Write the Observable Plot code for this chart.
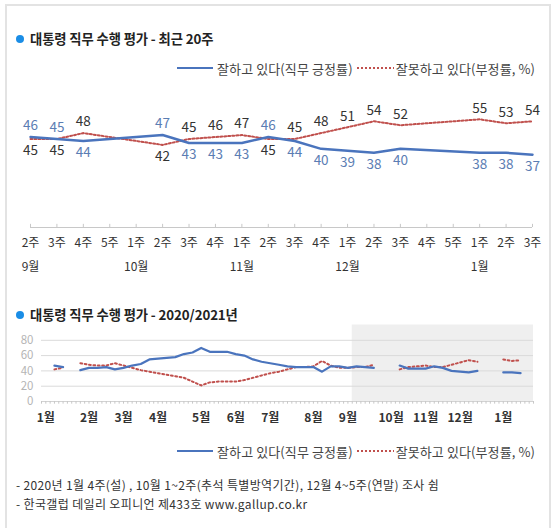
<!DOCTYPE html>
<html><head><meta charset="utf-8">
<script src="https://cdn.jsdelivr.net/npm/d3@7"></script>
<script src="https://cdn.jsdelivr.net/npm/@observablehq/plot@0.6"></script>
<style>
body{margin:0;background:#fff;font-family:"Noto Sans CJK KR","Noto Sans",sans-serif;}
#root{position:relative;width:559px;height:528px;overflow:hidden;background:#fff;}
.frame{position:absolute;left:5px;top:4px;width:546px;height:560px;border:2px solid #e3e3e3;box-sizing:border-box;}
.title{position:absolute;left:16px;height:18px;line-height:18px;font-size:13.3px;font-weight:bold;color:#222;white-space:nowrap;display:flex;align-items:center;letter-spacing:-0.1px;}
.dot{display:inline-block;width:8px;height:8px;border-radius:50%;background:#1a8de6;margin-right:6px;}
.legend{position:absolute;right:24px;height:18px;font-size:13px;color:#444;display:flex;align-items:center;white-space:nowrap;letter-spacing:0.1px;}
.legend svg{display:block;}
.note{position:absolute;left:16px;height:16px;line-height:16px;font-size:12px;color:#333;white-space:nowrap;letter-spacing:0.35px;}
.chart{position:absolute;left:0;}
</style></head><body>
<div id="root">
  <div class="frame"></div>
  <div class="chart" id="top" style="top:60px"></div>
  <div class="chart" id="bottom" style="top:315px"></div>
  <div class="title" style="top:30px"><span class="dot"></span>대통령 직무 수행 평가 - 최근 20주</div>
  <div class="legend" id="leg1" style="top:59px"></div>
  <div class="title" style="top:306px"><span class="dot"></span>대통령 직무 수행 평가 - 2020/2021년</div>
  <div class="legend" id="leg2" style="top:442px"></div>
  <div class="note" style="top:477px">- 2020년 1월 4주(설) , 10월 1~2주(추석 특별방역기간), 12월 4~5주(연말) 조사 쉼</div>
  <div class="note" style="top:496px">- 한국갤럽 데일리 오피니언 제433호 www.gallup.co.kr</div>
</div>
<script>
// ---------- data: recent 20 weeks ----------
const topWeeks = ["2주","3주","4주","5주","1주","2주","3주","4주","1주","2주","3주","4주","1주","2주","3주","4주","5주","1주","2주","3주"];
const topMonthLabels = ["9월","10월","11월","12월","1월"];
const topMonthWeekIndex = [0,4,8,12,17];
const topApprove = [46,45,44,null,null,47,43,43,43,46,44,40,39,38,40,null,null,38,38,37];
const topDisapprove = [45,45,48,null,null,42,45,46,47,45,45,48,51,54,52,null,null,55,53,54];

// ---------- data: 2020/2021 weekly ----------
const months = ["1월","2월","3월","4월","5월","6월","7월","8월","9월","10월","11월","12월","1월"];
const weeksPerMonth = [5,4,4,5,4,4,5,4,5,4,4,5,4];
const approve = [null,47,45,null,41,44,44,45,42,44,47,49,55,56,57,58,62,64,70,65,65,65,62,60,55,52,50,48,46,45,45,45,39,46,46,44,46,45,44,null,null,47,43,43,43,46,44,40,39,38,40,null,null,38,38,37,null];
const disapprove = [null,42,44,null,50,48,47,47,50,47,44,41,39,37,35,33,31,26,21,25,26,26,26,28,31,34,37,39,42,45,45,46,53,47,44,44,45,45,48,null,null,42,45,46,47,45,45,48,51,54,52,null,null,55,53,54,null];
const yTicks = [0,20,40,60,80];
const gridLines = [20,40,60,80];

const labelApprove = "잘하고 있다(직무 긍정률)";
const labelDisapprove = "잘못하고 있다(부정률, %)";

const BLUE = "#4a74bd", RED = "#c0504d", BLUE_TXT = "#5b7db3", DARK = "#333";
const FONT = '"Noto Sans CJK KR","Noto Sans",sans-serif';

// legends
function legend(el){
  el.innerHTML =
    `<svg width="36" height="6"><line x1="0" x2="36" y1="3" y2="3" stroke="${BLUE}" stroke-width="2"/></svg>`+
    `<span style="margin-left:4px">${labelApprove}</span>`+
    `<svg width="37" height="6" style="margin-left:4px"><line x1="0" x2="37" y1="3" y2="3" stroke="${RED}" stroke-width="2" stroke-dasharray="2,2"/></svg>`+
    `<span style="margin-left:2px">${labelDisapprove}</span>`;
}
legend(document.getElementById("leg1"));
legend(document.getElementById("leg2"));

// ---------- top chart ----------
const topRows = topWeeks.map((w,i)=>({i, w, a: topApprove[i], d: topDisapprove[i]}));
const topValid = topRows.filter(r => r.a != null && r.d != null);
const topMonths = topMonthLabels.map((m,k)=>({i: topMonthWeekIndex[k], m}));

const topChart = Plot.plot({
  width: 559, height: 220,
  marginLeft: 30, marginRight: 27, marginTop: 49, marginBottom: 53,
  x: {type: "linear", domain: [0, topWeeks.length - 1], axis: null},
  y: {domain: [0, 60], axis: null},
  style: {fontFamily: FONT, background: "transparent", overflow: "visible"},
  marks: [
    Plot.ruleY([0], {stroke: "#c8c8c8"}),
    Plot.ruleX(topRows, {x: "i", y1: 0, y2: 1.6, stroke: "#c8c8c8"}),
    Plot.axisX({ticks: d3.range(topWeeks.length), tickFormat: i => topWeeks[i], tickSize: 0, tickPadding: 11, fontSize: 12, color: DARK, label: null}),
    Plot.text(topMonths, {x: "i", text: "m", frameAnchor: "bottom", dy: 43, fontSize: 12, fill: DARK}),
    Plot.line(topValid, {x: "i", y: "d", stroke: RED, strokeWidth: 2, strokeDasharray: "2,2"}),
    Plot.line(topValid, {x: "i", y: "a", stroke: BLUE, strokeWidth: 2.5}),
    Plot.text(topValid.filter(r => r.a >= r.d), {x: "i", y: "a", text: "a", dy: -11, fill: BLUE_TXT, fontSize: 13.5}),
    Plot.text(topValid.filter(r => r.a < r.d), {x: "i", y: "a", text: "a", dy: 12, fill: BLUE_TXT, fontSize: 13.5}),
    Plot.text(topValid.filter(r => r.d > r.a), {x: "i", y: "d", text: "d", dy: -11, fill: DARK, fontSize: 13.5}),
    Plot.text(topValid.filter(r => r.d <= r.a), {x: "i", y: "d", text: "d", dy: 12, fill: DARK, fontSize: 13.5})
  ]
});
document.getElementById("top").appendChild(topChart);

// ---------- bottom chart ----------
const nWeeks = approve.length;
const rows = approve.map((a,i)=>({i, a, d: disapprove[i]}));
const monthRows = [];
{ let s = 0; weeksPerMonth.forEach((n,k)=>{ monthRows.push({i: s, m: months[k]}); s += n; }); }
const lastSurveyWeek = nWeeks - 2;               // 2021년 1월 3주
const recentStart = lastSurveyWeek - (topWeeks.length - 1);  // 최근 20주 시작
const shade = [{x1: recentStart - 0.5, x2: nWeeks - 0.5}];
const tickPos = d3.range(-0.5, nWeeks, 0.5);

const bottomChart = Plot.plot({
  width: 559, height: 125,
  marginLeft: 41, marginRight: 26, marginTop: 9.5, marginBottom: 39,
  x: {type: "linear", domain: [-0.5, nWeeks - 0.5], axis: null},
  y: {domain: [0, 100], axis: null},
  style: {fontFamily: FONT, background: "transparent", overflow: "visible"},
  marks: [
    Plot.rect(shade, {x1: "x1", x2: "x2", y1: 0, y2: 100, fill: "#efefef"}),
    Plot.gridY(gridLines, {stroke: "#dadada", strokeOpacity: 1}),
    Plot.axisY({ticks: yTicks, tickSize: 0, tickPadding: 8, fontSize: 11.5, color: "#b5b5b5", label: null}),
    Plot.ruleY([0], {stroke: "#d3d3d3"}),
    Plot.ruleX(tickPos, {x: d => d, y1: 0, y2: -3.5, stroke: "#c8c8c8"}),
    Plot.text(monthRows, {x: "i", text: "m", frameAnchor: "bottom", dy: 20, fontSize: 12, fontWeight: "bold", fill: DARK}),
    Plot.line(rows, {x: "i", y: "d", stroke: RED, strokeWidth: 2, strokeDasharray: "1.8,2.6"}),
    Plot.line(rows, {x: "i", y: "a", stroke: BLUE, strokeWidth: 2.2})
  ]
});
document.getElementById("bottom").appendChild(bottomChart);
</script>
</body></html>
